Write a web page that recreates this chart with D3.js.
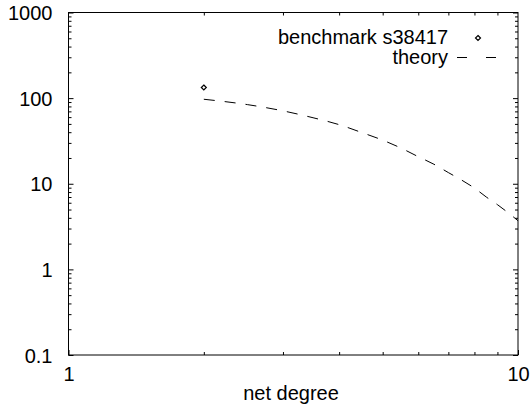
<!DOCTYPE html>
<html>
<head>
<meta charset="utf-8">
<script src="https://cdn.jsdelivr.net/npm/d3@7/dist/d3.min.js"></script>
<style>
  html, body { margin: 0; padding: 0; background: #fff; }
  text { font-family: "Liberation Sans", Arial, sans-serif; fill: #000; }
</style>
</head>
<body>
<div id="chart"></div>
<script>
// benchmark point
var benchDegree = [2];
var benchCount = [133];

// theory curve
var theoryDegree = [2, 2.5, 3, 3.5, 4, 4.5, 5, 5.5, 6, 6.5, 7, 7.5, 8, 8.5, 9, 9.5, 10];
var theoryCount = [97, 84, 71, 59, 49, 39.5, 32.3, 26, 20.7, 16.9, 13.5, 11.0, 8.9, 7.0, 5.7, 4.6, 3.7];

var xMajor = [1, 10];
var xMinor = [2, 3, 4, 5, 6, 7, 8, 9];
var yMajor = [0.1, 1, 10, 100, 1000];
var yLabels = ["0.1", "1", "10", "100", "1000"];

var width = 530, height = 408;
var plotLeft = 68.5, plotRight = 518, plotTop = 12.5, plotBottom = 355;
var fontSize = "20px";

var svg = d3.select("#chart").append("svg")
    .attr("width", width)
    .attr("height", height);

var x = d3.scaleLog().domain([1, 10]).range([plotLeft, plotRight]);
var y = d3.scaleLog().domain([0.1, 1000]).range([plotBottom, plotTop]);

// minor y ticks
var yMinor = [];
yMajor.slice(0, -1).forEach(function (d) {
    for (var k = 2; k <= 9; k++) yMinor.push(d * k);
});

function drawAxis(axis, tx, ty) {
    var g = svg.append("g").attr("transform", "translate(" + tx + "," + ty + ")").call(axis);
    g.select(".domain").remove();
    g.selectAll("line").attr("stroke", "#000").attr("stroke-width", 1);
    return g;
}

// left
var gl = drawAxis(d3.axisLeft(y).tickValues(yMajor).tickSize(-5).tickPadding(16)
    .tickFormat(function (d, i) { return yLabels[i]; }), plotLeft, 0);
gl.selectAll("text").style("font-size", fontSize).attr("dy", "0.36em")
    .attr("font-family", null);
drawAxis(d3.axisLeft(y).tickValues(yMinor).tickSize(-3).tickFormat(""), plotLeft, 0);

// right
drawAxis(d3.axisRight(y).tickValues(yMajor).tickSize(-5).tickFormat(""), plotRight, 0);
drawAxis(d3.axisRight(y).tickValues(yMinor).tickSize(-3).tickFormat(""), plotRight, 0);

// bottom
var gb = drawAxis(d3.axisBottom(x).tickValues(xMajor).tickSize(-5).tickPadding(12)
    .tickFormat(d3.format("d")), 0, plotBottom);
gb.selectAll("text").style("font-size", fontSize).attr("dy", "0.71em")
    .attr("font-family", null);
drawAxis(d3.axisBottom(x).tickValues(xMinor).tickSize(-3).tickFormat(""), 0, plotBottom);

// top
drawAxis(d3.axisTop(x).tickValues(xMinor).tickSize(-3).tickFormat(""), 0, plotTop);

// frame
svg.append("rect")
    .attr("x", plotLeft).attr("y", plotTop)
    .attr("width", plotRight - plotLeft).attr("height", plotBottom - plotTop)
    .attr("fill", "none").attr("stroke", "#000").attr("stroke-width", 1);

// x label
svg.append("text")
    .attr("x", 291).attr("y", 400)
    .attr("text-anchor", "middle")
    .style("font-size", fontSize)
    .text("net degree");

// theory line
var theoryData = d3.zip(theoryDegree, theoryCount);
var line = d3.line()
    .x(function (d) { return x(d[0]); })
    .y(function (d) { return y(d[1]); })
    .curve(d3.curveMonotoneX);

svg.append("path")
    .datum(theoryData)
    .attr("d", line)
    .attr("fill", "none")
    .attr("stroke", "#000")
    .attr("stroke-width", 1)
    .attr("stroke-dasharray", "11,10");

// benchmark points
var diamond = d3.symbol().type(d3.symbolDiamond2).size(16);
svg.selectAll(".bench")
    .data(d3.zip(benchDegree, benchCount))
    .enter().append("path")
    .attr("class", "bench")
    .attr("transform", function (d) { return "translate(" + x(d[0]) + "," + y(d[1]) + ")"; })
    .attr("d", diamond)
    .attr("fill", "none")
    .attr("stroke", "#000")
    .attr("stroke-width", 1.2);

// legend
var legend = svg.append("g");
legend.append("text")
    .attr("x", 448).attr("y", 44)
    .attr("text-anchor", "end")
    .style("font-size", fontSize)
    .text("benchmark s38417");
legend.append("path")
    .attr("transform", "translate(478,38)")
    .attr("d", diamond)
    .attr("fill", "none")
    .attr("stroke", "#000")
    .attr("stroke-width", 1.2);
legend.append("text")
    .attr("x", 448).attr("y", 64)
    .attr("text-anchor", "end")
    .style("font-size", fontSize)
    .text("theory");
legend.append("line")
    .attr("x1", 457).attr("x2", 498)
    .attr("y1", 57.5).attr("y2", 57.5)
    .attr("stroke", "#000")
    .attr("stroke-dasharray", "10,19");
</script>
</body>
</html>
